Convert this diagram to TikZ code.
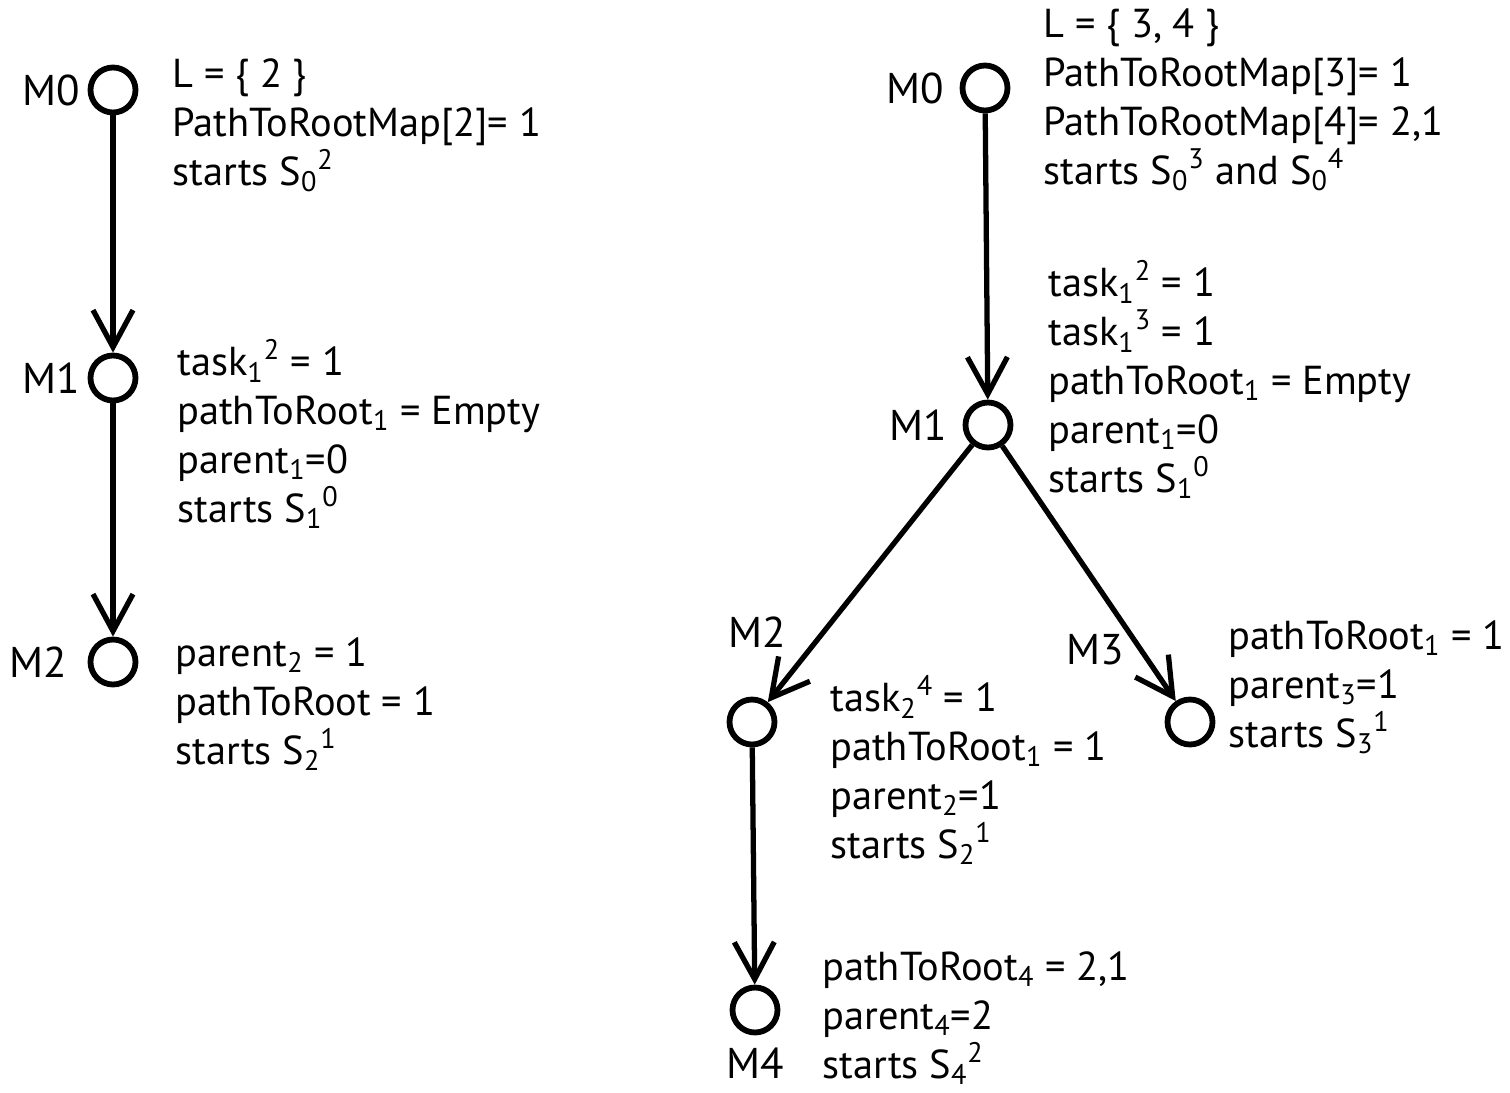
\documentclass[tikz,border=0pt]{standalone}
\usepackage{fontspec}
\setmainfont{PT Sans}
\usetikzlibrary{arrows.meta,positioning}

\begin{document}
\begin{tikzpicture}[x=0.02cm,
					y=-0.02cm,
					main node/.style={circle,draw,line width=3.3pt,inner sep=0pt,minimum size=0.9cm},
					info/.style={align=left,anchor=base west,inner sep=0pt,font=\fontsize{23}{27.8}\selectfont},
					mlabel/.style={inner sep=0pt,font=\fontsize{24.5}{28}\selectfont},
					link/.style={line width=3pt,-{Straight Barb[length=0.74cm,width=0.8cm]}}]

  \useasboundingbox (0,0) rectangle (1510,1092);

  % first run: one chain
  \node[main node] (A0) at (113,90) {};
  \node[main node] (A1) at (113,378) {};
  \node[main node] (A2) at (113,662) {};

  \node[mlabel] (lA0) [left=0.14cm of A0] {M0};
  \node[mlabel] (lA1) [left=0.14cm of A1] {M1};
  \node[mlabel] (lA2) [left=0.4cm of A2] {M2};

  \node[info] (tA0) at (172,185) {L = \{ 2 \}\\PathToRootMap[2]= 1\\starts S\textsubscript{0}\textsuperscript{2}};
  \node[info] (tA1) at (177,522) {task\textsubscript{1}\textsuperscript{2} = 1\\pathToRoot\textsubscript{1} = Empty\\parent\textsubscript{1}=0\\starts S\textsubscript{1}\textsuperscript{0}};
  \node[info] (tA2) at (175,764) {parent\textsubscript{2} = 1\\pathToRoot = 1\\starts S\textsubscript{2}\textsuperscript{1}};

  \draw[link] (A0) -- (A1);
  \draw[link] (A1) -- (A2);

  % second run: tree
  \node[main node] (B0) at (985,88) {};
  \node[main node] (B1) at (988,425) {};
  \node[main node] (B2) at (752,722) {};
  \node[main node] (B3) at (1190,722) {};
  \node[main node] (B4) at (755,1010) {};

  \node[mlabel] (lB0) [left=0.3cm of B0] {M0};
  \node[mlabel] (lB1) [left=0.3cm of B1] {M1};
  \node[mlabel] (lB2) at (757,632) {M2};
  \node[mlabel] (lB3) at (1095,650) {M3};
  \node[mlabel] (lB4) [below=0.24cm of B4] {M4};

  \node[info] (tB0) at (1043,184) {L = \{ 3, 4 \}\\PathToRootMap[3]= 1\\PathToRootMap[4]= 2,1\\starts S\textsubscript{0}\textsuperscript{3} and S\textsubscript{0}\textsuperscript{4}};
  \node[info] (tB1) at (1048,492) {task\textsubscript{1}\textsuperscript{2} = 1\\task\textsubscript{1}\textsuperscript{3} = 1\\pathToRoot\textsubscript{1} = Empty\\parent\textsubscript{1}=0\\starts S\textsubscript{1}\textsuperscript{0}};
  \node[info] (tB2) at (830,858) {task\textsubscript{2}\textsuperscript{4} = 1\\pathToRoot\textsubscript{1} = 1\\parent\textsubscript{2}=1\\starts S\textsubscript{2}\textsuperscript{1}};
  \node[info] (tB3) at (1228,747) {pathToRoot\textsubscript{1} = 1\\parent\textsubscript{3}=1\\starts S\textsubscript{3}\textsuperscript{1}};
  \node[info] (tB4) at (822,1078) {pathToRoot\textsubscript{4} = 2,1\\parent\textsubscript{4}=2\\starts S\textsubscript{4}\textsuperscript{2}};

  \draw[link] (B0) -- (B1);
  \draw[link] (B1) -- (B2);
  \draw[link] (B1) -- (B3);
  \draw[link] (B2) -- (B4);
\end{tikzpicture}
\end{document}
